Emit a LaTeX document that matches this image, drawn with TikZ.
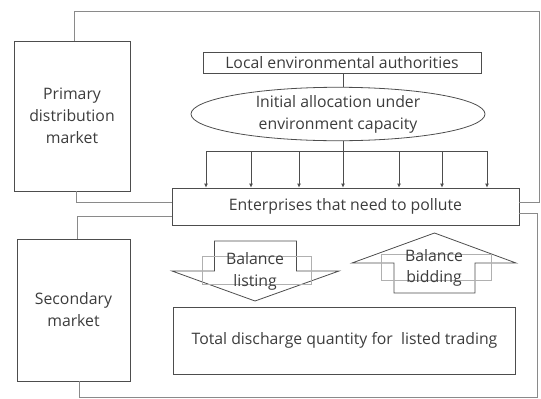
\documentclass[tikz,border=0pt]{standalone}
\usepackage{fontspec}
\setmainfont{Open Sans}
\usetikzlibrary{arrows.meta,shapes.geometric,calc}
\definecolor{linegray}{HTML}{4D4D4D}
\definecolor{brgray}{HTML}{8A8A8A}
\definecolor{textgray}{HTML}{3C3C3C}
\definecolor{lightrect}{HTML}{B0B0B0}
\begin{document}
\begin{tikzpicture}[x=1pt,y=-1pt,
  line/.style={draw=linegray, line width=0.8pt},
  bracket/.style={draw=brgray, line width=0.8pt},
  box/.style={draw=linegray, line width=0.8pt, inner sep=0pt, align=center,
    text=textgray, font=\fontsize{15.8}{22}\selectfont},
  txt/.style={inner sep=0pt, align=center, text=textgray, font=\fontsize{15.8}{21.5}\selectfont},
  tip/.style={line, -{Latex[length=4pt,width=4pt]}},
]
\useasboundingbox (0,0) rectangle (541,399);
% nodes
\node[box, minimum width=116pt, minimum height=150pt] (prim) at (72,116) {Primary\\distribution\\market};
\node[box, minimum width=278pt, minimum height=21pt] (auth) at (342,62.5) {Local environmental authorities};
\node[box, ellipse, minimum width=294pt, minimum height=48pt] (alloc) at (338,114) {Initial allocation under\\environment capacity};
\node[box, minimum width=347pt, minimum height=37.5pt] (ent) at (345.5,206.75) {Enterprises that need to pollute};
\node[box, minimum width=113pt, minimum height=142pt] (sec) at (73.5,310) {Secondary\\market};
\node[box, minimum width=342pt, minimum height=67.5pt] (total) at (344.5,340.75) {Total discharge quantity for\ \ listed trading};
% helper coordinates
\coordinate (y203) at (0,202.5);
\coordinate (y213) at (0,213);
\coordinate (y216) at (0,216);
\coordinate (tr) at (539.5,11);
\coordinate (br) at (537,397.5);
\coordinate (bus) at (343,151);
% authority to allocation
\draw[line] (auth.south -| bus) -- (alloc.north -| bus);
\draw[line] (alloc.south -| bus) -- (bus);
\draw[line] (206,151) -- (487,151);
\foreach \x [count=\i] in {206,251,299,343,399,442,487}{
  \coordinate (b\i) at (\x,151);
  \draw[tip] (b\i) -- (b\i |- ent.north);
}
% brackets
\draw[bracket] ([xshift=2.5pt]prim.north) |- (tr) |- (ent.east |- y203);
\draw[bracket] ([xshift=4.5pt]prim.south) |- (ent.west |- y203);
\draw[bracket] (ent.west |- y216) -| ([xshift=4pt]sec.north);
\draw[bracket] (ent.east |- y213) -| (br) -| ([xshift=5.5pt]sec.south);
% balance listing (down arrow)
\draw[line] (214.5,241) -- (296.5,241) -- (296.5,271) -- (339,271) -- (255,301) -- (172,271) -- (214.5,271) -- cycle;
\draw[draw=lightrect, line width=0.8pt] (202,256) rectangle (311,284);
\node[txt] (listing) at (255,271.5) {Balance\\listing};
% balance bidding (up arrow)
\draw[line] (434.5,233) -- (516,263) -- (475,263) -- (475,293) -- (394,293) -- (394,263) -- (352,263) -- cycle;
\draw[draw=lightrect, line width=0.8pt] (381,254) rectangle (491,280);
\node[txt] (bidding) at (434,268) {Balance\\bidding};
\end{tikzpicture}
\end{document}
